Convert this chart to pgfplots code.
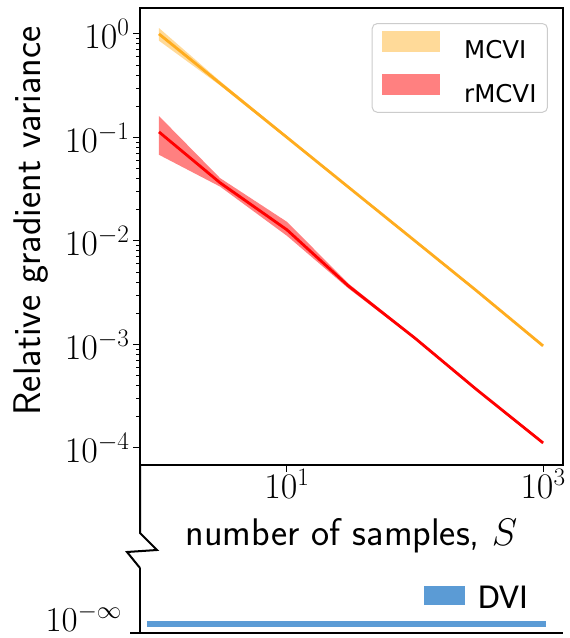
\RequirePackage{fix-cm}
\documentclass[border=0pt]{standalone}
\usepackage{fontspec}
\usepackage{pgfplots}
\usepackage{pgfplotstable}
\pgfplotsset{compat=1.18}
\usepgfplotslibrary{fillbetween}
\newfontfamily\djv{DejaVu Sans}
\newfontfamily\carl{Carlito}
\definecolor{mcviline}{RGB}{255,172,30}
\definecolor{mcvifill}{RGB}{255,218,153}
\definecolor{rline}{RGB}{255,0,0}
\definecolor{rfill}{RGB}{255,128,128}
\definecolor{dvi}{RGB}{91,155,213}

\pgfplotstableread{
S mean lo hi
1 1.0 0.86 1.14
3 0.333 0.318 0.350
10 0.100 0.097 0.103
30 0.0333 0.0327 0.0340
100 0.0100 0.0098 0.0102
300 0.00333 0.00327 0.00340
1000 0.00097 0.00095 0.00099
}\mcvi

\pgfplotstableread{
S mean lo hi
1 0.113 0.068 0.161
3 0.0365 0.0335 0.0405
10 0.0128 0.0112 0.0153
30 0.0037 0.0035 0.0039
100 0.00115 0.00112 0.00118
300 0.00037 0.00036 0.00038
1000 0.000112 0.000109 0.000115
}\rmcvi

\begin{document}
\begin{tikzpicture}
\begin{axis}[
  at={(140pt,173pt)}, anchor=south west, scale only axis,
  width=423pt, height=457pt,
  xmode=log, ymode=log,
  xmin=0.711, xmax=1432, ymin=6.85e-5, ymax=1.78,
  xtick={10,1000}, xminorticks=false,
  ytick={1e-4,1e-3,1e-2,1e-1,1},
  tick align=outside, xtick pos=bottom, ytick pos=left,
  major tick length=7pt, minor tick length=4pt,
  every tick/.style={black, line width=1pt},
  axis line style={line width=1.6pt},
  tick label style={font=\fontsize{36}{42}\selectfont},
  xticklabel style={yshift=6pt},
  xlabel={number of samples, $S$},
  ylabel={Relative gradient variance},
  label style={font=\sffamily\fontsize{38.5}{44}\selectfont},
  xlabel style={at={(axis description cs:0.5,-0.177)}, anchor=base},
  ylabel style={at={(axis description cs:-0.258,0.534)}, anchor=center},
  legend style={at={(rel axis cs:0.9645,0.967)}, anchor=north east,
    draw=black!20, line width=1pt, rounded corners=5pt, fill=white,
    font=\djv\fontsize{24.5}{28}\selectfont,
    inner xsep=10pt, inner ysep=7pt, row sep=13pt, column sep=23pt,
    nodes={inner sep=1pt}},
  legend cell align=left,
  legend image code/.code={\path[sharp corners,#1,draw=none] (0pt,-1pt) rectangle (58pt,20pt);},
]
\addlegendimage{fill=mcvifill}
\addlegendentry{MCVI}
\addlegendimage{fill=rfill}
\addlegendentry{rMCVI}
% MCVI band
\addplot[name path=mu, draw=none, forget plot] table[x=S,y=hi] {\mcvi};
\addplot[name path=ml, draw=none, forget plot] table[x=S,y=lo] {\mcvi};
\addplot[mcvifill, forget plot] fill between[of=mu and ml];
\addplot[mcviline, line width=2.8pt, forget plot] table[x=S,y=mean] {\mcvi};
% rMCVI band
\addplot[name path=ru, draw=none, forget plot] table[x=S,y=hi] {\rmcvi};
\addplot[name path=rl, draw=none, forget plot] table[x=S,y=lo] {\rmcvi};
\addplot[rfill, forget plot] fill between[of=ru and rl];
\addplot[rline, line width=2.8pt, forget plot] table[x=S,y=mean] {\rmcvi};
\end{axis}

\begin{axis}[
  at={(140pt,5pt)}, anchor=south west, scale only axis,
  width=423pt, height=65pt,
  xmode=log, xmin=0.711, xmax=1432, ymin=0, ymax=1,
  axis x line=bottom, axis y line=left,
  axis line style={-, line width=2pt},
  xtick=\empty, ytick={0}, yticklabels={$10^{-\infty}$},
  tick align=outside, major tick length=10pt,
  every tick/.style={black, line width=2pt},
  y tick label style={font=\fontsize{35}{40}\selectfont, inner sep=0pt, xshift=-8pt, yshift=15pt},
  legend style={at={(rel axis cs:0.671,0.72)}, anchor=north west,
    draw=none, fill=none, font=\carl\fontsize{35}{40}\selectfont,
    inner sep=0pt, column sep=13pt, nodes={inner sep=0pt}},
  legend image code/.code={\path[#1,draw=none] (0pt,-7pt) rectangle (41pt,12pt);},
]
\addplot[dvi, line width=6pt, fill=dvi] coordinates {(0.805,0.138) (1055,0.138)};
\addlegendentry{DVI}
\end{axis}

\draw[line width=2pt] (140pt,173pt) -- (140pt,105pt) -- (157pt,88pt) -- (127pt,86pt) -- (140pt,70pt);
\pgfresetboundingbox
\path[use as bounding box] (0pt,0pt) rectangle (570pt,638pt);
\end{tikzpicture}
\end{document}
